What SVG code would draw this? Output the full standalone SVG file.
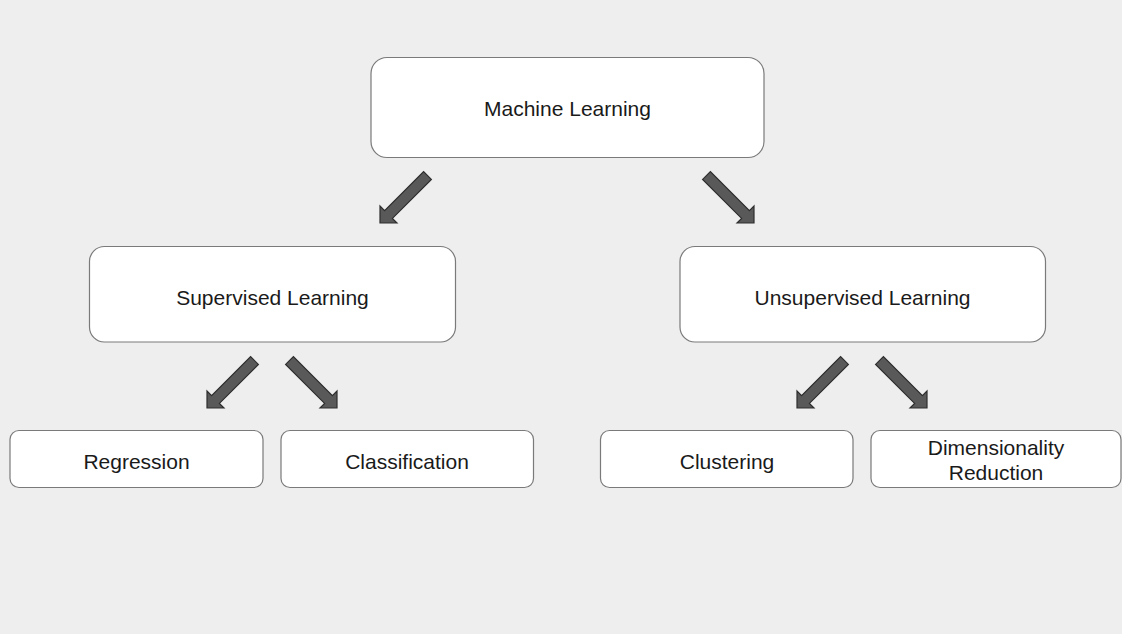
<svg xmlns="http://www.w3.org/2000/svg" width="1122" height="634" viewBox="0 0 1122 634">
<style>
.box{fill:#ffffff;stroke:#7a7a7a;stroke-width:1.2}
.lbl{font-family:"Liberation Sans",Arial,sans-serif;font-size:21px;fill:#1a1a1a;text-anchor:middle}
.arr{fill:#595959;stroke:#2e2e2e;stroke-width:1.2;stroke-linejoin:miter}
</style>
<defs>
<path id="dl" d="M0,0 L0,-17 L4.6,-12.4 L43.6,-51.4 L51.4,-43.6 L12.4,-4.6 L17,0 Z"/>
</defs>
<rect x="0" y="0" width="1122" height="634" fill="#eeeeee"/>
<g id="connectors">
<use href="#dl" class="arr" transform="translate(380,223)"/>
<use href="#dl" class="arr" transform="translate(754,223) scale(-1,1)"/>
<use href="#dl" class="arr" transform="translate(207,408)"/>
<use href="#dl" class="arr" transform="translate(337,408) scale(-1,1)"/>
<use href="#dl" class="arr" transform="translate(797,408)"/>
<use href="#dl" class="arr" transform="translate(927,408) scale(-1,1)"/>
</g>
<g id="machine-learning">
<rect class="box" x="371" y="57.5" width="393" height="100" rx="16"/>
<text class="lbl" x="567.5" y="116">Machine Learning</text>
</g>
<g id="supervised">
<rect class="box" x="89.5" y="246.5" width="366" height="95.5" rx="15"/>
<text class="lbl" x="272.5" y="305">Supervised Learning</text>
</g>
<g id="unsupervised">
<rect class="box" x="680" y="246.5" width="365.5" height="95.5" rx="15"/>
<text class="lbl" x="862.5" y="305">Unsupervised Learning</text>
</g>
<g id="regression">
<rect class="box" x="10" y="430.5" width="253" height="57" rx="9"/>
<text class="lbl" x="136.5" y="469">Regression</text>
</g>
<g id="classification">
<rect class="box" x="281" y="430.5" width="252.5" height="57" rx="9"/>
<text class="lbl" x="407" y="469">Classification</text>
</g>
<g id="clustering">
<rect class="box" x="600.5" y="430.5" width="252.5" height="57" rx="9"/>
<text class="lbl" x="727" y="469">Clustering</text>
</g>
<g id="dimensionality-reduction">
<rect class="box" x="871" y="430.5" width="250" height="57" rx="9"/>
<text class="lbl" x="996" y="455">Dimensionality</text>
<text class="lbl" x="996" y="480">Reduction</text>
</g>
</svg>
